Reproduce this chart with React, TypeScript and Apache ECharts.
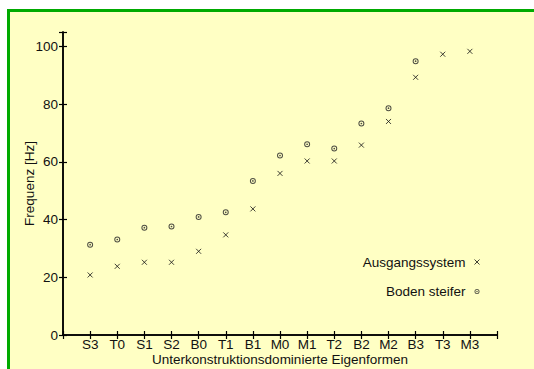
import React, { useEffect, useRef } from "react";
import * as echarts from "echarts";

const categories = ["S3", "T0", "S1", "S2", "B0", "T1", "B1", "M0", "M1", "T2", "B2", "M2", "B3", "T3", "M3"];
const ausgangssystem = [20.8, 23.8, 25.2, 25.2, 29.0, 34.7, 43.7, 56.0, 60.3, 60.3, 65.8, 74.0, 89.3, 97.3, 98.3];
const bodenSteifer: (number | null)[] = [31.3, 33.1, 37.2, 37.6, 40.9, 42.5, 53.4, 62.2, 66.1, 64.6, 73.3, 78.6, 94.9, null, null];
const yTicks = [0, 20, 40, 60, 80, 100];

const FONT = "'Liberation Sans', Arial, sans-serif";
const FS = 13.5;
const CROSS = "path://M0,0L10,10M10,0L0,10";
const RING =
  "path://M0,6A6,6 0 1,1 12,6A6,6 0 1,1 0,6ZM2,6A4,4 0 1,0 10,6A4,4 0 1,0 2,6ZM4.3,6A1.7,1.7 0 1,1 7.7,6A1.7,1.7 0 1,1 4.3,6Z";

export default function App() {
  const ref = useRef<HTMLDivElement>(null);
  useEffect(() => {
    if (!ref.current) return;
    const chart = echarts.init(ref.current, undefined, { renderer: "svg" });
    const toPoints = (arr: (number | null)[]) =>
      arr.map((v, i) => (v == null ? null : [i + 1, v])).filter((p) => p !== null);
    const axisCommon = {
      axisLine: { show: true, lineStyle: { color: "#000", width: 1.5 } },
      axisTick: { show: true, inside: true, length: 4, lineStyle: { color: "#000", width: 1.2 } },
      splitLine: { show: false },
    };
    chart.setOption({
      animation: false,
      backgroundColor: "#ffffff",
      textStyle: { fontFamily: FONT },
      graphic: [
        { type: "rect", z: -10, silent: true, shape: { x: 7, y: 9, width: 600, height: 400 }, style: { fill: "#00aa00" } },
        { type: "rect", z: -9, silent: true, shape: { x: 10, y: 12, width: 600, height: 400 }, style: { fill: "#ffffc4" } },
      ],
      grid: { left: 63, right: 37, top: 32, bottom: 34, containLabel: false, outerBoundsMode: "none" },
      legend: {
        orient: "vertical",
        align: "right",
        right: 54,
        top: 255,
        padding: 0,
        itemGap: 15.5,
        itemWidth: 13,
        itemHeight: 5,
        itemStyle: { borderWidth: 1 },
        textStyle: { fontFamily: FONT, fontSize: FS, color: "#111" },
        data: ["Ausgangssystem", "Boden steifer"],
      },
      xAxis: [
        {
          type: "value",
          position: "bottom",
          min: 0,
          max: categories.length + 1,
          interval: 1,
          ...axisCommon,
          axisLabel: {
            margin: 2,
            fontSize: FS,
            color: "#111",
            fontFamily: FONT,
            formatter: (v: number) => categories[v - 1] ?? "",
          },
          name: "Unterkonstruktionsdominierte Eigenformen",
          nameLocation: "middle",
          nameGap: 17,
          nameMoveOverlap: false,
          nameTextStyle: { fontSize: FS, color: "#111", fontFamily: FONT },
        },
        {
          type: "value",
          position: "top",
          min: 0,
          max: categories.length + 1,
          interval: 1,
          ...axisCommon,
          axisLabel: { show: false },
        },
      ],
      yAxis: [
        {
          type: "value",
          position: "left",
          min: 0,
          max: 105,
          interval: 20,
          ...axisCommon,
          axisLabel: {
            margin: 5,
            fontSize: FS,
            color: "#111",
            fontFamily: FONT,
            formatter: (v: number) => (yTicks.includes(v) ? String(v) : ""),
          },
          name: "Frequenz [Hz]",
          nameLocation: "middle",
          nameGap: 27,
          nameMoveOverlap: false,
          nameTextStyle: { fontSize: FS, color: "#111", fontFamily: FONT },
        },
        {
          type: "value",
          position: "right",
          min: 0,
          max: 105,
          interval: 20,
          ...axisCommon,
          axisLabel: { show: false },
        },
      ],
      series: [
        {
          name: "Ausgangssystem",
          type: "scatter",
          xAxisIndex: 0,
          yAxisIndex: 0,
          symbol: CROSS,
          symbolSize: 5,
          itemStyle: { color: "transparent", borderColor: "#111", borderWidth: 1 },
          data: toPoints(ausgangssystem),
        },
        {
          name: "Boden steifer",
          type: "scatter",
          xAxisIndex: 0,
          yAxisIndex: 0,
          symbol: RING,
          symbolSize: 6,
          itemStyle: { color: "#222" },
          data: toPoints(bodenSteifer),
        },
      ],
    });
    return () => chart.dispose();
  }, []);
  return (
    <div
      ref={ref}
      style={{ position: "fixed", left: 0, top: 0, width: 534, height: 369 }}
    />
  );
}
